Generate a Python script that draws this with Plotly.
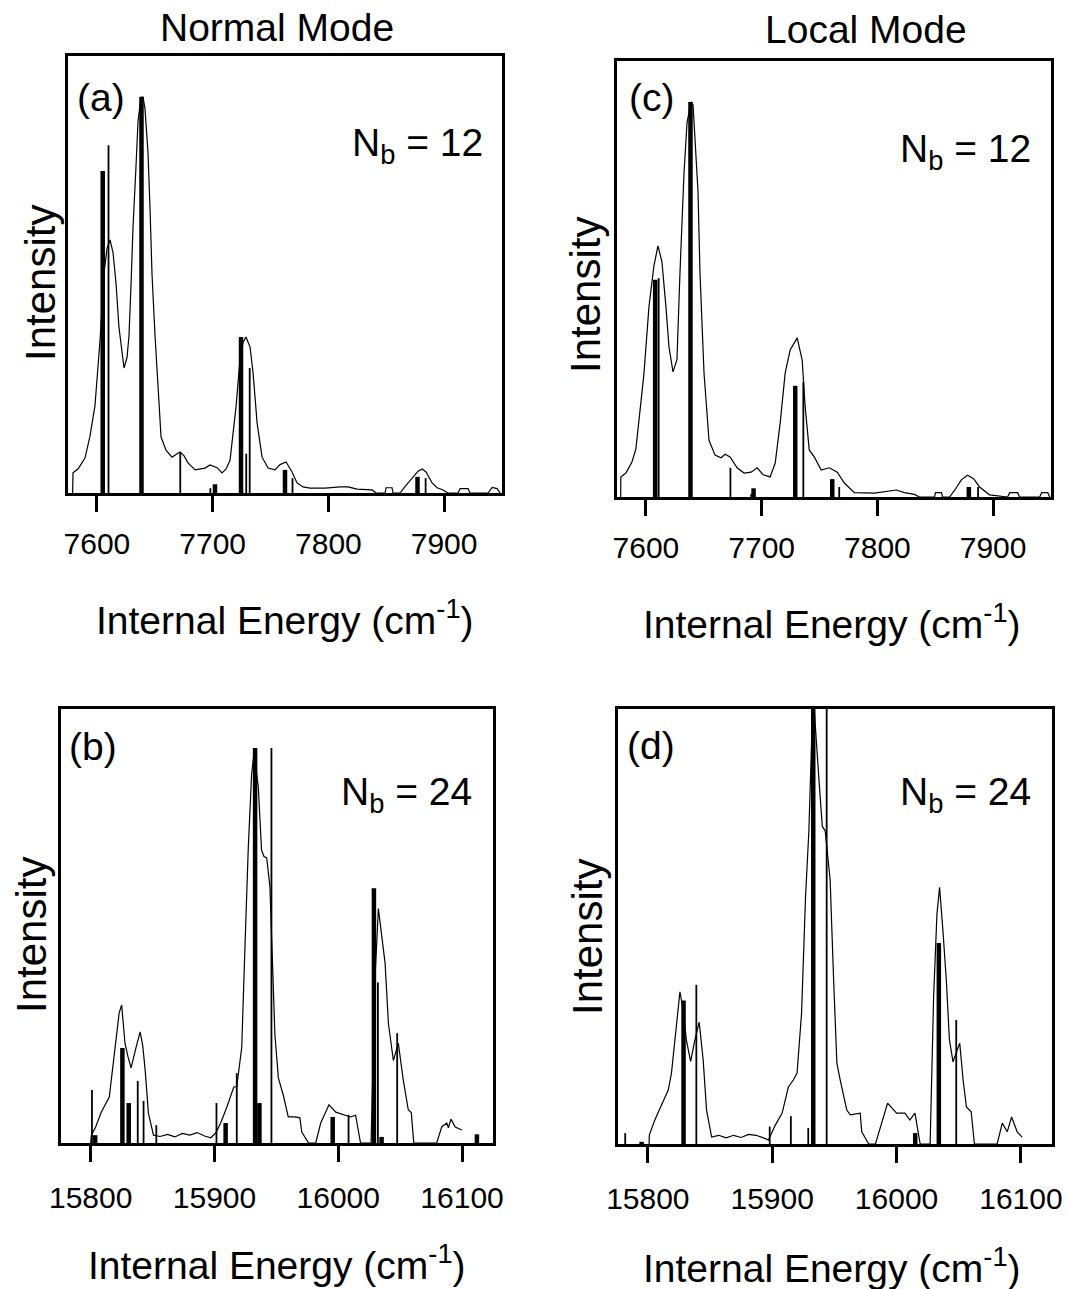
import plotly.graph_objects as go

# ---------------- DATA ----------------
# Panel (a): Normal Mode, Nb = 12
a_curve_x = [7579, 7579.3, 7583.6, 7589.7, 7594, 7598.3, 7602.7, 7606, 7608.7, 7611.3, 7613.9, 7616.5,
             7619, 7623.4, 7626, 7627.7, 7629.5, 7631.2, 7633.8, 7635.5, 7638, 7639.8, 7641.5, 7644.1,
             7645.9, 7647.6, 7650.2, 7651.9, 7655.4, 7659.7, 7664.9, 7669.2, 7671.8, 7675.3, 7678.7,
             7684.8, 7689.1, 7693.4, 7697.7, 7701.2, 7703.8, 7708.1, 7711.6, 7715, 7717.6, 7720.2,
             7723.7, 7726.3, 7728.8, 7732.3, 7734.9, 7736.6, 7738.4, 7742.7, 7747.9, 7753.9, 7758.2,
             7763.4, 7768.6, 7772.9, 7778.1, 7784.2, 7797.1, 7810.1, 7817, 7824.8, 7837.7, 7841.2,
             7849, 7849.8, 7855, 7855.9, 7862, 7866.3, 7872.3, 7877.5, 7881, 7884.4, 7889.6, 7893.9,
             7898.2, 7903.4, 7912, 7913.8, 7920.7, 7922.4, 7938, 7941.5, 7945.8, 7948.4]
a_curve_y = [0.0, 0.046, 0.055, 0.08, 0.13, 0.2, 0.35, 0.5, 0.56, 0.579, 0.55, 0.48,
             0.38, 0.286, 0.31, 0.36, 0.48, 0.61, 0.75, 0.85, 0.906, 0.906, 0.88, 0.78,
             0.65, 0.5, 0.36, 0.275, 0.128, 0.098, 0.082, 0.09, 0.094, 0.085, 0.069,
             0.053, 0.055, 0.057, 0.064, 0.06, 0.058, 0.046, 0.055, 0.075, 0.13, 0.197,
             0.31, 0.345, 0.357, 0.334, 0.275, 0.22, 0.16, 0.082, 0.057, 0.053, 0.065,
             0.071, 0.048, 0.023, 0.014, 0.011, 0.011, 0.014, 0.014, 0.009, 0.007, 0.0,
             0.0, 0.012, 0.012, 0.0, 0.0, 0.015, 0.035, 0.05, 0.055, 0.048, 0.023, 0.012,
             0.008, 0.0, 0.0, 0.01, 0.01, 0.0, 0.0, 0.013, 0.01, 0.0]
a_major_x = [7605, 7638.5, 7702, 7724.5, 7762.5, 7877]
a_major_y = [0.737, 0.906, 0.02, 0.357, 0.053, 0.037]
a_minor_x = [7610, 7672, 7698, 7729, 7732, 7769, 7884]
a_minor_y = [0.796, 0.094, 0.011, 0.09, 0.286, 0.034, 0.034]

# Panel (c): Local Mode, Nb = 12
c_curve_x = [7578.2, 7578.3, 7582.7, 7587.9, 7591.3, 7593.9, 7598.2, 7602.6, 7606.9, 7610.4, 7613.8,
             7617.3, 7619.9, 7623.4, 7626.8, 7629.4, 7632.9, 7635.5, 7638.9, 7640.7, 7642.4, 7645,
             7646.7, 7650.2, 7654.5, 7659.7, 7664.9, 7668.4, 7672.7, 7678.8, 7684.8, 7690.9, 7696.1,
             7701.3, 7707.3, 7711.7, 7716, 7720.3, 7724.6, 7730.7, 7735, 7737.6, 7741.1, 7745.4,
             7751.5, 7758.4, 7765.3, 7771.4, 7780.1, 7797.4, 7816.4, 7823.4, 7832, 7836.3, 7849.3,
             7850.2, 7855.4, 7856.3, 7862.3, 7866.6, 7872.7, 7877.9, 7883.1, 7888.3, 7896.9, 7912.5,
             7914.3, 7921.2, 7922.9, 7940.2, 7942, 7947.2, 7948.9]
c_curve_y = [0.0, 0.046, 0.055, 0.08, 0.11, 0.17, 0.28, 0.436, 0.53, 0.576, 0.54,
             0.436, 0.344, 0.287, 0.315, 0.514, 0.743, 0.858, 0.906, 0.9, 0.826, 0.7,
             0.514, 0.284, 0.13, 0.096, 0.09, 0.098, 0.092, 0.067, 0.055, 0.057, 0.067,
             0.051, 0.046, 0.078, 0.17, 0.284, 0.337, 0.365, 0.314, 0.207, 0.108, 0.092,
             0.062, 0.067, 0.057, 0.032, 0.01, 0.009, 0.016, 0.01, 0.006, 0.0, 0.0,
             0.01, 0.01, 0.0, 0.0, 0.015, 0.04, 0.05, 0.042, 0.023, 0.005, 0.0,
             0.01, 0.01, 0.0, 0.0, 0.01, 0.01, 0.0]
c_major_x = [7608, 7638.5, 7693, 7729, 7761, 7879]
c_major_y = [0.498, 0.906, 0.02, 0.255, 0.041, 0.023]
c_minor_x = [7611, 7673, 7691, 7736, 7767, 7887]
c_minor_y = [0.502, 0.067, 0.007, 0.264, 0.023, 0.023]

# Panel (b): Normal Mode, Nb = 24
b_curve_x = [15800, 15800.5, 15804, 15808.5, 15815, 15819.6, 15823, 15825, 15827.7, 15830, 15832.6,
             15836.6, 15839.9, 15842, 15844, 15846.6, 15850.7, 15856, 15862, 15868, 15874, 15880,
             15886, 15892, 15897, 15901, 15905, 15910, 15915.6, 15918, 15922, 15924.6, 15927.3,
             15930, 15932, 15935.4, 15938, 15940, 15942.2, 15944.8, 15947, 15948.8, 15951.6,
             15955.6, 15959.6, 15965, 15969, 15970.5, 15976, 15981.8, 15985.8, 15992.5, 15998,
             16004.7, 16010, 16014, 16016, 16018, 16026.5, 16030, 16032.4, 16035, 16037.8, 16040.5,
             16044.5, 16048.5, 16052.5, 16056.6, 16059, 16061, 16079.5, 16083.6, 16087.6, 16089,
             16091, 16094.5, 16099.8]
b_curve_y = [0.0, 0.018, 0.037, 0.071, 0.106, 0.214, 0.3, 0.318, 0.23, 0.2, 0.173,
             0.22, 0.256, 0.225, 0.168, 0.069, 0.018, 0.015, 0.02, 0.014, 0.022, 0.018,
             0.024, 0.016, 0.012, 0.023, 0.046, 0.083, 0.129, 0.13, 0.22, 0.45, 0.68,
             0.85, 0.9, 0.82, 0.675, 0.66, 0.657, 0.59, 0.376, 0.25, 0.15,
             0.11, 0.06, 0.06, 0.058, 0.025, 0.0, 0.0, 0.046, 0.088, 0.071,
             0.064, 0.06, 0.064, 0.03, 0.0, 0.0, 0.4, 0.54, 0.483, 0.415, 0.276,
             0.19, 0.23, 0.145, 0.076, 0.07, 0.0, 0.0, 0.037, 0.046, 0.035,
             0.055, 0.037, 0.03]
b_major_x = [15803.6, 15825.6, 15830.7, 15909, 15932.8, 15936.3, 15995.5, 16028.8, 16035, 16112]
b_major_y = [0.018, 0.219, 0.092, 0.046, 0.91, 0.092, 0.06, 0.587, 0.014, 0.02]
b_minor_x = [15801, 15838, 15842.7, 15853, 15901.6, 15918, 15946, 16008.3, 16032, 16047.6]
b_minor_y = [0.122, 0.143, 0.097, 0.041, 0.092, 0.161, 0.91, 0.065, 0.37, 0.253]

# Panel (d): Local Mode, Nb = 24
d_curve_x = [15801, 15801.2, 15805.6, 15812.3, 15816.4, 15819, 15822.4, 15825.8, 15828.4, 15831,
             15834.4, 15837.8, 15841.3, 15844.5, 15847.2, 15851.3, 15857, 15863, 15869, 15875,
             15881, 15887, 15893, 15897, 15902.6, 15908, 15913, 15917, 15920, 15923.6, 15926.8,
             15929.5, 15932.2, 15934, 15937.6, 15940.3, 15942.6, 15946.6, 15949.4, 15952, 15954.7,
             15960, 15962.8, 15970.8, 15972, 15977.6, 15983, 15988, 15992.8, 16000, 16006.7,
             16010.7, 16014.8, 16017.5, 16019, 16027, 16029.8, 16032.5, 16034.6, 16037.3, 16040,
             16042.5, 16045.4, 16050.8, 16053.5, 16056.2, 16060, 16062.6, 16080.9, 16085, 16089,
             16092.5, 16097, 16101]
d_curve_y = [0.0, 0.021, 0.055, 0.097, 0.124, 0.163, 0.262, 0.35, 0.308, 0.239,
             0.19, 0.239, 0.28, 0.193, 0.078, 0.016, 0.02, 0.014, 0.02, 0.015,
             0.022, 0.02, 0.014, 0.009, 0.044, 0.071, 0.131, 0.147, 0.163, 0.3, 0.568,
             0.72, 0.975, 0.99, 0.837, 0.73, 0.72, 0.607, 0.377, 0.186, 0.147,
             0.078, 0.067, 0.071, 0.028, 0.0, 0.0, 0.048, 0.094, 0.071, 0.071,
             0.055, 0.071, 0.025, 0.0, 0.0, 0.338, 0.53, 0.59, 0.49, 0.377,
             0.24, 0.189, 0.232, 0.147, 0.085, 0.074, 0.0, 0.0, 0.048, 0.028,
             0.062, 0.028, 0.016]
d_major_x = [15795, 15828.7, 15933, 16015, 16034]
d_major_y = [0.005, 0.33, 1.05, 0.025, 0.462]
d_minor_x = [15781.8, 15839, 15898, 15915, 15929, 15943.8, 16048]
d_minor_y = [0.025, 0.366, 0.04, 0.064, 0.037, 1.05, 0.285]

top_ticks = [7600, 7700, 7800, 7900]
bottom_ticks = [15800, 15900, 16000, 16100]
top_range = [7575, 7950]
bottom_range = [15776, 16125]

col_titles = ["Normal Mode", "Local Mode"]
panel_labels = ["(a)", "(c)", "(b)", "(d)"]
nb_labels = ["N<sub>b</sub> = 12", "N<sub>b</sub> = 12", "N<sub>b</sub> = 24", "N<sub>b</sub> = 24"]
x_title = "Internal Energy (cm<sup>-1</sup>)"
y_title = "Intensity"

# ---------------- FIGURE ----------------
W, H = 1068, 1289
FONT = "Liberation Sans, Arial, sans-serif"


def px(x):
    return x / W


def py(y):
    return 1 - y / H


def sticks(xs, ys):
    sx, sy = [], []
    for x, y in zip(xs, ys):
        sx += [x, x, None]
        sy += [0, y, None]
    return sx, sy


fig = go.Figure()

panels = [
    ("a", a_curve_x, a_curve_y, a_major_x, a_major_y, a_minor_x, a_minor_y, (68, 502), (56, 493), top_range, top_ticks, 6),
    ("c", c_curve_x, c_curve_y, c_major_x, c_major_y, c_minor_x, c_minor_y, (617, 1051), (61, 497), top_range, top_ticks, 6),
    ("b", b_curve_x, b_curve_y, b_major_x, b_major_y, b_minor_x, b_minor_y, (61, 493), (709, 1143), bottom_range, bottom_ticks, 10),
    ("d", d_curve_x, d_curve_y, d_major_x, d_major_y, d_minor_x, d_minor_y, (618, 1052), (709, 1144), bottom_range, bottom_ticks, 10),
]

layout_axes = {}
for i, (name, cx, cy, mx, my, nx, ny, xd, yd, xr, tv, so) in enumerate(panels):
    n = "" if i == 0 else str(i + 1)
    xa, ya = "x" + n, "y" + n
    fig.add_trace(go.Scatter(x=cx, y=cy, mode="lines", line=dict(color="black", width=1.2),
                             xaxis=xa, yaxis=ya, showlegend=False, hoverinfo="skip"))
    sx, sy = sticks(mx, my)
    fig.add_trace(go.Scatter(x=sx, y=sy, mode="lines", line=dict(color="black", width=4.5),
                             xaxis=xa, yaxis=ya, showlegend=False, hoverinfo="skip"))
    sx, sy = sticks(nx, ny)
    fig.add_trace(go.Scatter(x=sx, y=sy, mode="lines", line=dict(color="black", width=1.8),
                             xaxis=xa, yaxis=ya, showlegend=False, hoverinfo="skip"))
    layout_axes["xaxis" + n] = dict(
        domain=[px(xd[0]), px(xd[1])], range=xr, anchor=ya,
        showline=True, mirror=True, linecolor="black", linewidth=3,
        ticks="outside", ticklen=16, tickwidth=3, tickcolor="black",
        tickvals=tv, ticktext=[str(t) for t in tv], ticklabelstandoff=so,
        tickfont=dict(family=FONT, size=30, color="black"),
        showgrid=False, zeroline=False, fixedrange=True, automargin=False,
    )
    layout_axes["yaxis" + n] = dict(
        domain=[py(yd[1]), py(yd[0])], range=[0, 1], anchor=xa,
        showline=True, mirror=True, linecolor="black", linewidth=3,
        ticks="", showticklabels=False, showgrid=False, zeroline=False, fixedrange=True,
        automargin=False,
    )

annotations = []


def ann(text, x, y, size, xanchor="center", yanchor="middle", angle=0):
    annotations.append(dict(text=text, x=px(x), y=py(y), xref="paper", yref="paper",
                            xanchor=xanchor, yanchor=yanchor, showarrow=False, textangle=angle,
                            font=dict(family=FONT, size=size, color="black")))


# column titles
ann(col_titles[0], 277, 27, 39)
ann(col_titles[1], 866, 30, 39)
# panel labels
for lab, (x, y) in zip(panel_labels, [(101, 98), (651, 98), (93, 746), (651, 745)]):
    ann(lab, x, y, 39)
# N_b labels
for lab, (x, y) in zip(nb_labels, [(485, 146), (1033, 152), (474, 794), (1033, 794)]):
    ann(lab, x, y, 39, xanchor="right")
# x axis titles
for (x, y) in [(285, 617), (832, 621), (277, 1262), (832, 1265)]:
    ann(x_title, x, y, 39)
# y axis titles
for (x, y) in [(40, 283), (586, 295), (31, 935), (587, 937)]:
    ann(y_title, x, y, 42, angle=-90)

fig.update_layout(
    width=W, height=H, autosize=False,
    margin=dict(l=0, r=0, t=0, b=0, pad=0),
    paper_bgcolor="white", plot_bgcolor="white",
    annotations=annotations,
    showlegend=False,
    **layout_axes,
)

fig.write_html(
    "out.html",
    config={"displayModeBar": False, "staticPlot": True},
    post_script="document.body.style.margin='0';document.body.style.padding='0';document.body.style.overflow='hidden';",
)
